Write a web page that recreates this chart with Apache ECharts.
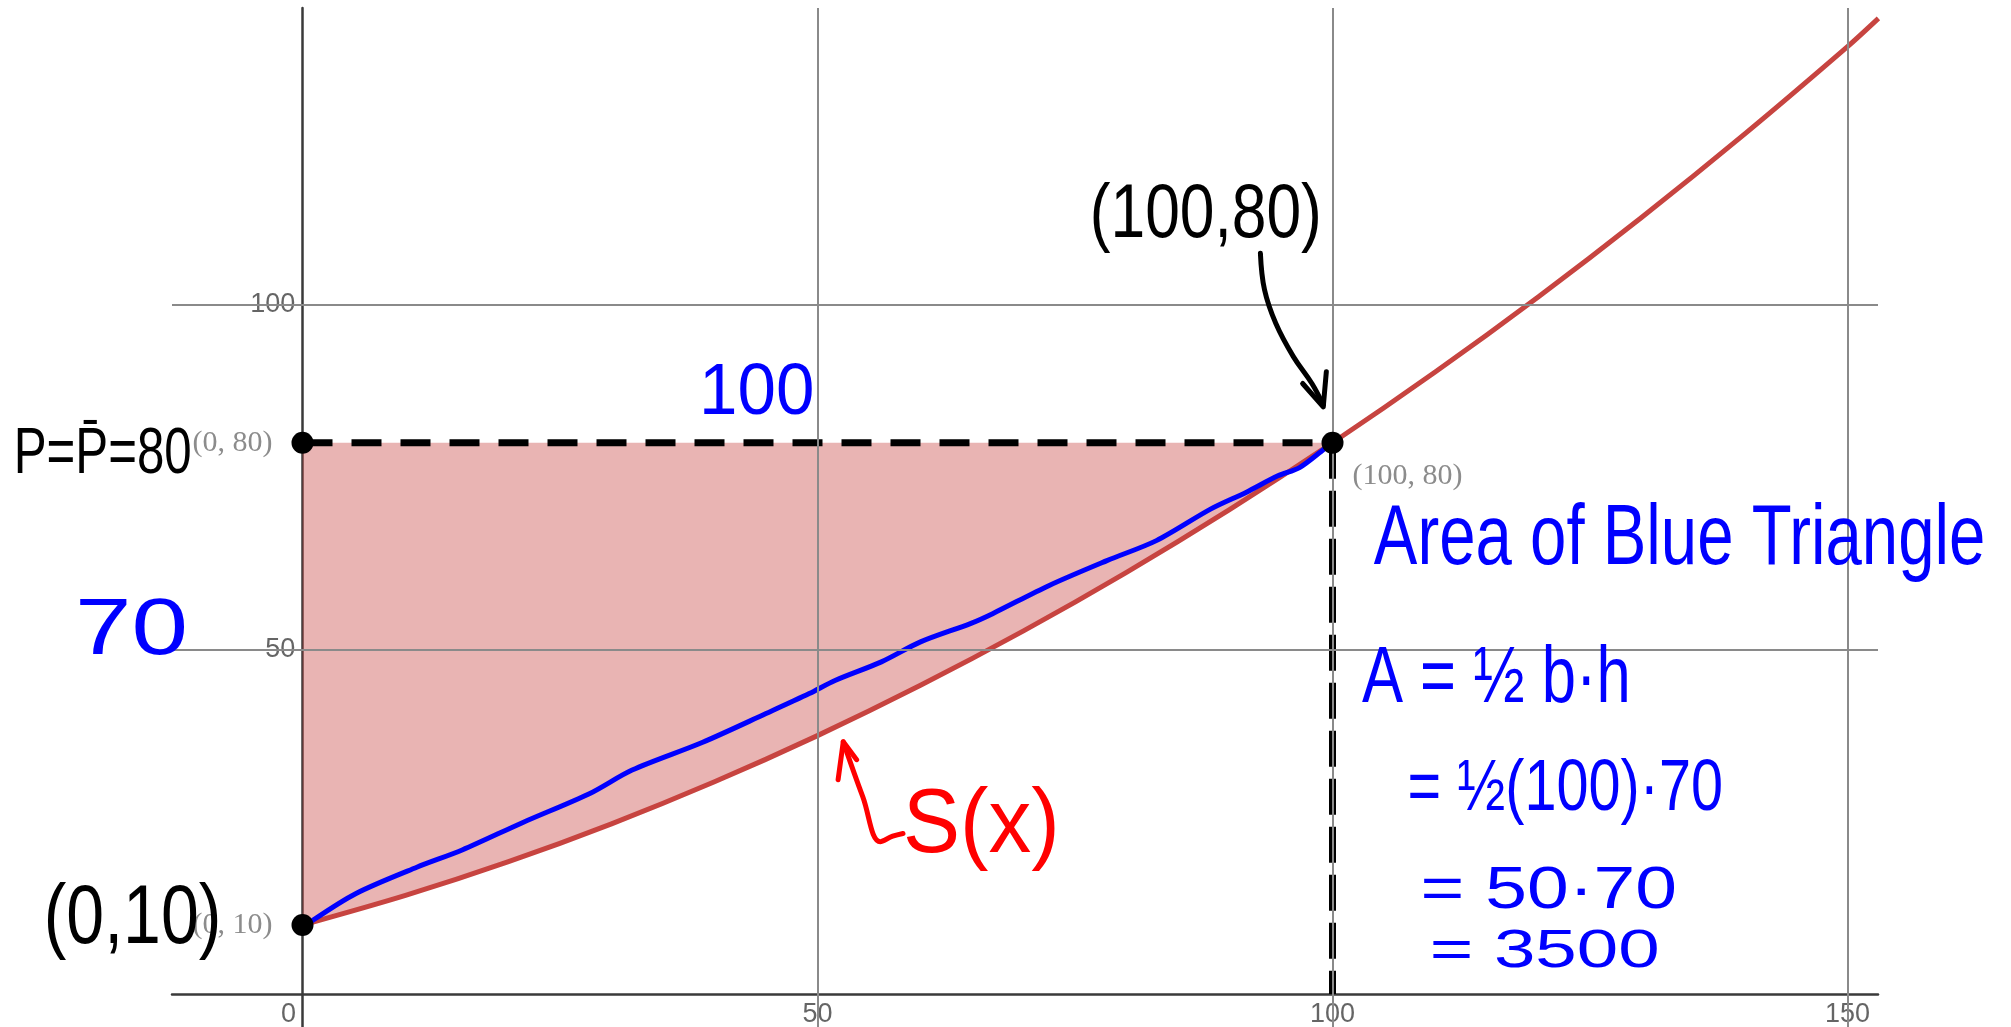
<!DOCTYPE html>
<html>
<head>
<meta charset="utf-8">
<script src="https://cdn.jsdelivr.net/npm/echarts@6/dist/echarts.min.js"></script>
<style>
html,body{margin:0;padding:0;background:#fff;}
#main{width:2011px;height:1027px;}
</style>
</head>
<body>
<div id="main"></div>
<script>
// supply curve S(x)
var supplyX = [0, 10, 20, 30, 40, 50, 60, 70, 80, 90, 100, 110, 120, 130, 140, 150, 153];
var supplyY = [10, 14.3, 19.2, 24.7, 30.8, 37.5, 44.8, 52.7, 61.2, 70.3, 80, 90.3, 101.2, 112.7, 124.8, 137.5, 141.6];

// hand drawn blue line from (0,10) to (100,80)
var blueX = [1.0, 5.2, 11.1, 15.5, 21.4, 27.9, 32.0, 38.8, 45.0, 49.2, 51.7, 56.2, 60.0, 64.9, 67.0, 72.5, 78.1, 82.9, 88.2, 91.6, 94.7, 96.8, 99.2, 100];
var blueY = [10.7, 14.6, 18.4, 20.9, 24.9, 29.1, 32.5, 36.5, 40.7, 43.6, 45.5, 48.2, 51.1, 53.8, 55.2, 59.3, 62.9, 65.8, 70.4, 72.8, 75.2, 76.4, 79.1, 80];

var priceLevel = 80;
var qtyLevel = 100;
var points = [[0, 10], [0, 80], [100, 80]];

var xTicks = [0, 50, 100, 150];
var yTicks = [50, 100];
var gridX = [50, 100, 150];
var gridY = [50, 100];

// hand drawn arrows (data coords)
var arrowBlackShaft = [[93.0, 107.5], [93.4, 102.2], [94.5, 97.3], [96.2, 92.5], [98.0, 88.6], [99.1, 85.5]];
var arrowBlackHead = [[97.1, 88.6], [99.1, 85.2], [99.4, 90.3]];
var arrowRedShaft = [[52.5, 36.6], [54.4, 28.6], [56.1, 22.1], [57.3, 22.9], [58.3, 23.3]];
var arrowRedHead = [[52.0, 31.1], [52.5, 36.6], [53.8, 34.0]];

// hand written notes
var noteText = ['P=P\u0304=80', '70', '(0,10)', '100', '(100,80)', 'S(x)',
    'Area of Blue Triangle', 'A = \u00bd b\u00b7h', '= \u00bd(100)\u00b770', '= 50\u00b770', '= 3500'];
var noteAt = [[-19.4, 78.2], [-16.6, 52.5], [-16.5, 10.7], [44.1, 87.1], [87.7, 112.9], [65.9, 24.2],
    [133.7, 65.9], [115.9, 45.6], [122.6, 29.6], [121.0, 14.9], [120.6, 6.1]];
var noteSize = [64, 80, 84, 72, 76, 90, 86, 80, 72, 60, 54];
var noteScale = [0.77, 1.27, 0.81, 0.96, 0.82, 0.95, 0.76, 0.77, 0.80, 1.25, 1.38];
var noteColor = ['#000', '#0000ff', '#000', '#0000ff', '#000', '#ff0000',
    '#0000ff', '#0000ff', '#0000ff', '#0000ff', '#0000ff'];

function zip(xs, ys) {
    var out = [];
    for (var i = 0; i < xs.length; i++) out.push([xs[i], ys[i]]);
    return out;
}

var hand = 'Liberation Sans';

function strokeSeries(data, color, smooth) {
    return {
        type: 'line', data: data, z: 5, smooth: smooth ? 0.4 : false,
        symbol: 'none', silent: true,
        lineStyle: {color: color, width: 5, cap: 'round', join: 'round'}
    };
}

function tickSeries(data, label) {
    return {
        type: 'scatter', data: data, z: 3, symbolSize: 0.5, silent: true,
        itemStyle: {color: 'rgba(0,0,0,0)'},
        label: Object.assign({
            show: true, fontSize: 27, color: '#3e3e3e', fontFamily: 'Liberation Sans'
        }, label)
    };
}

var myChart = echarts.init(document.getElementById('main'));
myChart.setOption({
    animation: false,
    backgroundColor: '#fff',
    grid: {left: 172, right: 133, top: 8, bottom: 0, containLabel: false, outerBoundsMode: 'none'},
    xAxis: {
        type: 'value', min: -12.67, max: 152.96,
        axisLine: {onZero: true, lineStyle: {color: '#3a3a3a', width: 2.5}},
        axisTick: {show: false},
        splitLine: {show: false},
        axisLabel: {show: false}
    },
    yAxis: {
        type: 'value', min: -4.79, max: 143.1,
        axisLine: {onZero: true, lineStyle: {color: '#3a3a3a', width: 2.5}},
        axisTick: {show: false},
        splitLine: {show: false},
        axisLabel: {show: false}
    },
    series: [
        {
            // grid lines
            type: 'line', data: [[0, 0]], z: 1, symbol: 'none', silent: true,
            lineStyle: {width: 0},
            markLine: {
                silent: true, symbol: ['none', 'none'], animation: false,
                label: {show: false},
                lineStyle: {color: '#8a8a8a', width: 2, type: 'solid'},
                data: gridX.map(function (v) { return {xAxis: v}; })
                    .concat(gridY.map(function (v) { return {yAxis: v}; }))
            }
        },
        // tick labels on the zero lines
        tickSeries(xTicks.map(function (v) {
            return {value: [v, 0], label: {offset: v === 0 ? [-14, 0] : [0, 0]}};
        }), {position: 'bottom', distance: 7, formatter: function (p) { return String(p.value[0]); }}),
        tickSeries(yTicks.map(function (v) { return [0, v]; }),
            {position: 'left', distance: 7, formatter: function (p) { return String(p.value[1]); }}),
        {
            // shaded region between price line and S(x)
            type: 'custom', z: 2, silent: true,
            data: [[0, priceLevel]],
            renderItem: function (params, api) {
                var pts = [];
                for (var i = 0; i < supplyX.length; i++) {
                    if (supplyX[i] <= qtyLevel) pts.push(api.coord([supplyX[i], supplyY[i]]));
                }
                pts.push(api.coord([0, priceLevel]));
                return {type: 'polygon', shape: {points: pts}, style: {fill: 'rgba(199,68,64,0.4)'}};
            }
        },
        {
            name: 'S(x)', type: 'line', data: zip(supplyX, supplyY), z: 3,
            smooth: 0.3, symbol: 'none', silent: true,
            lineStyle: {color: '#c74440', width: 5}
        },
        {
            type: 'line', data: zip(blueX, blueY), z: 4,
            smooth: 0.3, symbol: 'none', silent: true,
            lineStyle: {color: '#0000ff', width: 5, cap: 'round'}
        },
        {
            type: 'line', data: [[0, priceLevel], [qtyLevel, priceLevel]], z: 4,
            symbol: 'none', silent: true,
            lineStyle: {color: '#000', width: 7, type: [30, 19]}
        },
        {
            type: 'line', data: [[qtyLevel, priceLevel], [qtyLevel, 0]], z: 4,
            symbol: 'none', silent: true,
            lineStyle: {color: '#000', width: 7, type: [36, 12]}
        },
        strokeSeries(arrowBlackShaft, '#000', true),
        strokeSeries(arrowBlackHead, '#000', false),
        strokeSeries(arrowRedShaft, '#ff0000', true),
        strokeSeries(arrowRedHead, '#ff0000', false),
        {
            type: 'scatter', z: 6, symbolSize: 22, silent: true,
            itemStyle: {color: '#000', opacity: 1},
            data: points.map(function (p, i) {
                var lab = i < 2
                    ? {position: 'left', distance: 19}
                    : {position: [31, 44], align: 'left', verticalAlign: 'middle'};
                return {value: p, label: lab};
            }),
            label: {
                show: true,
                fontFamily: 'Liberation Serif', fontSize: 30, color: '#8c8c8c',
                formatter: function (p) { return '(' + p.value[0] + ', ' + p.value[1] + ')'; }
            }
        }
    ]
});

// hand written notes, placed through the grid's own scales
var elements = [];
for (var i = 0; i < noteText.length; i++) {
    var px = myChart.convertToPixel({gridIndex: 0}, noteAt[i]);
    elements.push({
        type: 'text', x: px[0], y: px[1], scaleX: noteScale[i], z: 10, silent: true,
        style: {
            text: noteText[i], fill: noteColor[i],
            fontSize: noteSize[i], fontFamily: hand,
            align: 'center', verticalAlign: 'middle',
            textAlign: 'center', textVerticalAlign: 'middle'
        }
    });
}
myChart.setOption({graphic: elements});
</script>
</body>
</html>
